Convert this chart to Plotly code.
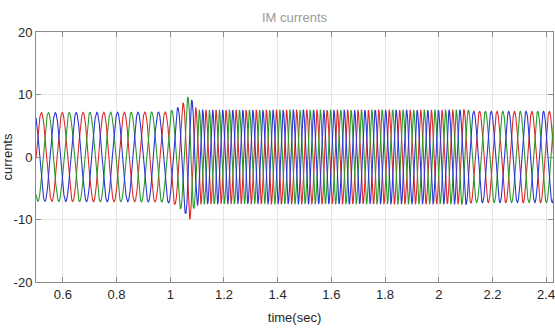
import numpy as np
import plotly.graph_objects as go

# --- values ---
# time knots (s), with the electrical frequency (Hz) and peak amplitude seen there
t_knots = [0.5, 0.98, 1.02, 1.05, 1.073, 1.09, 1.11, 1.5, 2.07, 2.10, 2.13, 2.43]
freq_knots = [12.8, 13.2, 15.0, 18.0, 21.0, 24.0, 26.8, 26.5, 25.0, 20.0, 15.4, 15.4]
amp_knots = [7.1, 7.2, 7.6, 8.7, 10.0, 8.0, 7.5, 7.5, 7.5, 7.6, 7.3, 7.3]
phase_names = ["ia", "ib", "ic"]
phase_colors = ["#e02a2a", "#2a9a2a", "#2a36d8"]
phase_shift_deg = [0, 120, 240]
red_peak_time = 0.52

x_tick_vals = [0.6, 0.8, 1.0, 1.2, 1.4, 1.6, 1.8, 2.0, 2.2, 2.4]
x_tick_text = ["0.6", "0.8", "1", "1.2", "1.4", "1.6", "1.8", "2", "2.2", "2.4"]
y_tick_vals = [-20, -10, 0, 10, 20]
y_tick_text = ["-20", "-10", "0", "10", "20"]

# --- build the sampled waveform from the knots ---
fs = 2500.0
t = np.arange(t_knots[0], t_knots[-1], 1.0 / fs)
f = np.interp(t, t_knots, freq_knots)
A = np.interp(t, t_knots, amp_knots)
theta = 2 * np.pi * np.cumsum(f) / fs
i0 = np.argmin(np.abs(t - red_peak_time))
theta = theta - theta[i0] + np.pi / 2

FONT = "Liberation Sans, Arial, sans-serif"

fig = go.Figure()
for name, col, sh in zip(phase_names, phase_colors, phase_shift_deg):
    y = A * np.sin(theta - np.deg2rad(sh))
    fig.add_trace(go.Scatter(x=t, y=y, mode="lines", name=name,
                             line=dict(color=col, width=1.1)))

axis_common = dict(
    showline=True, linecolor="#8a8a8a", linewidth=1, mirror="ticks",
    ticks="inside", ticklen=5, tickcolor="#8a8a8a",
    showgrid=True, gridcolor="#e6e6e6", gridwidth=1, zeroline=False,
    tickfont=dict(family=FONT, size=13, color="#262626"),
    automargin=False, ticklabeloverflow="allow",
)

fig.update_layout(
    width=555, height=336,
    margin=dict(l=36, r=2, t=32, b=54, autoexpand=False),
    paper_bgcolor="white", plot_bgcolor="white",
    showlegend=False,
    title=dict(text="IM currents", xref="paper", x=0.5, xanchor="center",
               yref="container", y=1 - 17 / 336, yanchor="middle",
               font=dict(family=FONT, size=13, color="#9a9a9a")),
    xaxis=dict(range=[0.5, 2.4255], tickvals=x_tick_vals, ticktext=x_tick_text,
               title=dict(text="time(sec)", standoff=12,
                          font=dict(family=FONT, size=13, color="#262626")),
               **axis_common),
    yaxis=dict(range=[-20, 20], tickvals=y_tick_vals, ticktext=y_tick_text,
               title=dict(text="currents", standoff=2,
                          font=dict(family=FONT, size=13, color="#262626")),
               **axis_common),
)

fig.write_html("out.html", config={"displayModeBar": False},
               post_script="document.body.style.margin='0';document.body.style.overflow='hidden';")
